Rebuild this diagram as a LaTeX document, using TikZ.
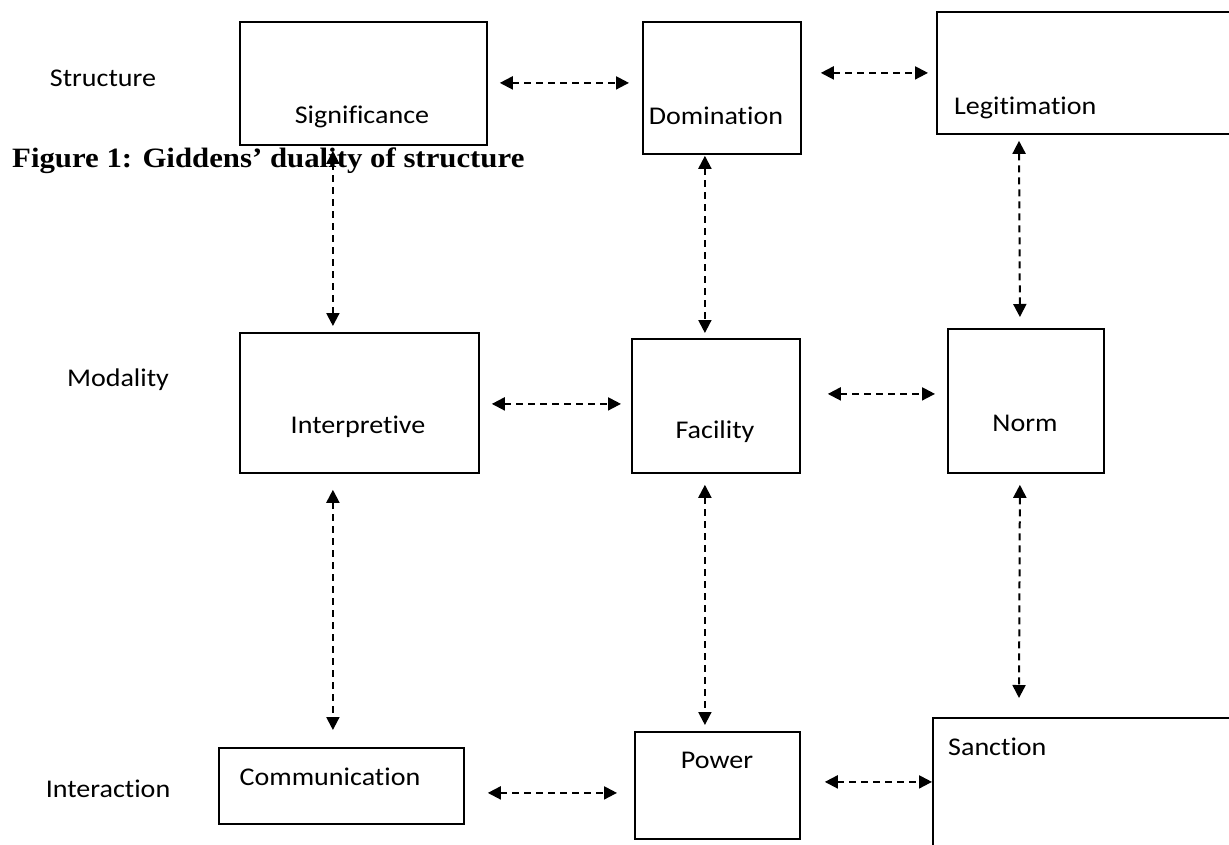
\documentclass[tikz,border=0pt]{standalone}
\usepackage{fontspec}
\setmainfont[FakeStretch=1.1,Ligatures=NoCommon]{Carlito}
\newfontfamily\capfont[FakeStretch=1.1]{Liberation Serif}
\usetikzlibrary{arrows.meta}
\begin{document}
\begin{tikzpicture}[x=1pt,y=-1pt,
  box/.style={draw,line width=1.8pt,inner sep=0pt,anchor=north west},
  lbl/.style={font=\fontsize{25.5}{30}\selectfont,inner sep=0pt},
  conn/.style={line width=2pt,dash pattern=on 7pt off 5pt,
    {Triangle[length=13pt,width=13pt]}-{Triangle[length=13pt,width=13pt]}}]
\useasboundingbox (0,0) rectangle (1229,844);
\clip (0,0) rectangle (1229,844);
% boxes
\node[box,minimum width=247pt,minimum height=123pt] (sig) at (239,21) {};
\node[box,minimum width=158pt,minimum height=132pt] (dom) at (642,21) {};
\node[box,minimum width=304pt,minimum height=122pt] (leg) at (936,11) {};
\node[box,minimum width=239pt,minimum height=140pt] (int) at (239,332) {};
\node[box,minimum width=168pt,minimum height=134pt] (fac) at (631,338) {};
\node[box,minimum width=156pt,minimum height=144pt] (norm) at (947,328) {};
\node[box,minimum width=245pt,minimum height=76pt] (com) at (218,747) {};
\node[box,minimum width=165pt,minimum height=107pt] (pow) at (634,731) {};
\node[box,minimum width=308pt,minimum height=133pt] (san) at (932,717) {};
% texts
\node[lbl] (tsig) at (362,117) {Significance};
\node[lbl] (tdom) at (716,116) {Domination};
\node[lbl,anchor=west] (tleg) at (954,108) {Legitimation};
\node[lbl] (tint) at (358,427) {Interpretive};
\node[lbl] (tfac) at (715,432) {Facility};
\node[lbl] (tnorm) at (1025,423) {Norm};
\node[lbl] (tcom) at (330,777) {Communication};
\node[lbl] (tpow) at (717,760) {Power};
\node[lbl,anchor=west] (tsan) at (948,747) {Sanction};
\node[lbl] (lstr) at (103,78) {Structure};
\node[lbl] (lmod) at (118,380) {Modality};
\node[lbl] (lint) at (108,789) {Interaction};
\node[inner sep=0pt,anchor=base west,font=\capfont\bfseries\fontsize{28}{33}\selectfont] (cap) at (12,167) {Figure 1: Giddens’ duality of structure};
% horizontal connectors
\draw[conn] ([shift={(12,-0.5)}]sig.east) -- ([shift={(-13,-5)}]dom.west);
\draw[conn] ([shift={(19,-15)}]dom.east) -- ([shift={(-8,0)}]leg.west);
\draw[conn] ([shift={(12,1)}]int.east) -- ([shift={(-10,-2)}]fac.west);
\draw[conn] ([shift={(27,-12)}]fac.east) -- ([shift={(-12,-7)}]norm.west);
\draw[conn] ([shift={(23,7)}]com.east) -- ([shift={(-17,7.5)}]pow.west);
\draw[conn] ([shift={(24,-3.5)}]pow.east) -- ([shift={(0,-2.5)}]san.west);
% vertical connectors
\draw[conn] ([shift={(-30.5,5)}]sig.south) -- ([shift={(-26.5,-6)}]int.north);
\draw[conn] ([shift={(-17,1)}]dom.south) -- ([shift={(-11,-5)}]fac.north);
\draw[conn] ([shift={(83,6)}]leg.south west) -- ([shift={(-6,-11)}]norm.north);
\draw[conn] ([shift={(-26.5,16)}]int.south) -- ([shift={(-8.5,-17)}]com.north);
\draw[conn] ([shift={(-11,11)}]fac.south) -- ([shift={(-12.5,-6)}]pow.north);
\draw[conn] ([shift={(-6,11)}]norm.south) -- ([shift={(87,-19)}]san.north west);
\end{tikzpicture}
\end{document}
